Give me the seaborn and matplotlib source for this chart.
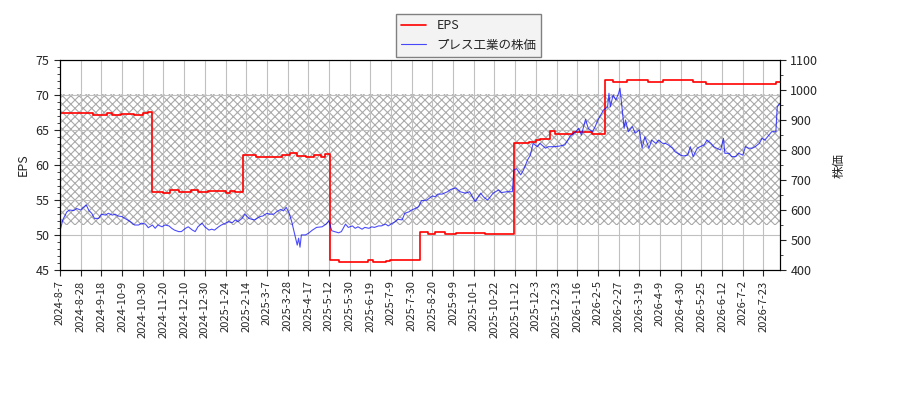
import matplotlib
matplotlib.use("Agg")
import matplotlib.pyplot as plt
import seaborn as sns
import pandas as pd
from matplotlib.ticker import MultipleLocator

# trading-day index -> EPS (step changes only)
eps_day = [0, 24, 34, 38, 44, 54, 60, 64, 67, 75, 80, 86, 95, 100, 107, 120, 123, 127,
           133, 142, 161, 167, 172, 178, 184, 189, 192, 196, 202, 223, 227, 236, 239, 256,
           261, 267, 272, 279, 287, 308, 329, 340, 345, 348, 355, 359, 372, 386, 395, 401,
           411, 426, 437, 459, 462, 468, 519, 522]
eps = [67.5, 67.1, 67.5, 67.1, 67.3, 67.2, 67.4, 67.6, 56.2, 56.0, 56.4, 56.1, 56.5, 56.1,
       56.3, 56.0, 56.3, 56.1, 61.5, 61.2, 61.4, 61.7, 61.3, 61.2, 61.5, 61.1, 61.6, 46.4,
       46.2, 46.4, 46.2, 46.3, 46.4, 46.5, 50.4, 50.2, 50.4, 50.2, 50.3, 50.1, 63.1, 63.3,
       63.6, 63.7, 64.8, 64.4, 64.7, 64.5, 72.1, 71.9, 72.1, 71.8, 72.2, 71.9, 71.8, 71.6,
       71.9, 71.9]

# trading-day index -> share price (yen)
price_day = [0, 2, 5, 7, 10, 12, 15, 17, 19, 21, 23, 25, 28, 30, 33, 35, 38, 40, 42, 45,
             47, 50, 52, 54, 57, 59, 62, 64, 67, 69, 71, 74, 76, 79, 81, 83, 86, 88, 91, 93,
             96, 98, 100, 103, 105, 108, 110, 112, 115, 117, 120, 122, 125, 127, 129, 132,
             134, 137, 139, 141, 145, 147, 150, 152, 155, 157, 160, 162, 164, 166, 168, 170,
             172, 173, 174, 175, 178, 180, 183, 186, 190, 193, 195, 197, 199, 202, 204, 207,
             209, 212, 214, 216, 219, 221, 224, 226, 228, 231, 233, 236, 238, 241, 243, 245,
             248, 250, 253, 255, 258, 260, 262, 266, 270, 272, 274, 277, 281, 283, 287, 290,
             294, 297, 301, 305, 307, 310, 312, 314, 318, 320, 324, 328, 329, 331, 334, 336,
             339, 341, 343, 346, 348, 352, 354, 358, 362, 366, 370, 374, 376, 378, 381, 383,
             386, 388, 390, 394, 397, 398, 399, 401, 403, 405, 406, 409, 410, 412, 415, 417,
             420, 422, 424, 427, 429, 432, 434, 437, 439, 441, 444, 446, 450, 452, 455, 457,
             459, 462, 464, 467, 469, 472, 474, 476, 479, 481, 482, 485, 487, 490, 492, 495,
             497, 499, 502, 504, 507, 509, 511, 514, 516, 519, 520, 522]
price = [530, 567, 594, 600, 598, 605, 600, 609, 617, 598, 589, 572, 572, 586, 583, 589, 583,
         586, 580, 578, 572, 564, 558, 550, 550, 556, 553, 541, 550, 539, 550, 544, 550, 547,
         539, 533, 528, 528, 539, 544, 533, 528, 544, 556, 544, 533, 536, 533, 544, 550, 556,
         561, 558, 567, 561, 572, 586, 572, 569, 567, 578, 580, 589, 586, 586, 594, 602, 597,
         609, 591, 561, 522, 483, 506, 476, 517, 517, 522, 533, 542, 544, 553, 564, 531, 528,
         524, 528, 553, 542, 547, 539, 544, 536, 542, 539, 544, 542, 547, 547, 553, 547, 556,
         561, 569, 567, 589, 594, 600, 606, 611, 631, 633, 647, 644, 653, 653, 661, 668, 674,
         661, 656, 661, 628, 656, 644, 633, 644, 656, 667, 658, 661, 661, 733, 738, 717, 733,
         767, 783, 822, 811, 822, 806, 811, 811, 813, 817, 847, 861, 872, 850, 902, 872, 861,
         878, 900, 933, 944, 989, 944, 983, 967, 989, 1006, 872, 900, 861, 878, 856, 867, 806,
         844, 806, 833, 822, 833, 822, 822, 817, 806, 794, 783, 780, 783, 811, 778, 806, 811,
         817, 833, 822, 811, 806, 800, 839, 789, 789, 778, 778, 789, 783, 811, 806, 806, 811,
         822, 839, 833, 850, 861, 861, 944, 956]

tick_labels = ["2024-8-7", "2024-8-28", "2024-9-18", "2024-10-9", "2024-10-30", "2024-11-20",
               "2024-12-10", "2024-12-30", "2025-1-24", "2025-2-14", "2025-3-7", "2025-3-28",
               "2025-4-17", "2025-5-12", "2025-5-30", "2025-6-19", "2025-7-9", "2025-7-30",
               "2025-8-20", "2025-9-9", "2025-10-1", "2025-10-22", "2025-11-12", "2025-12-3",
               "2025-12-23", "2026-1-16", "2026-2-5", "2026-2-27", "2026-3-19", "2026-4-9",
               "2026-4-30", "2026-5-25", "2026-6-12", "2026-7-2", "2026-7-23"]

eps_df = pd.DataFrame({"day": eps_day, "EPS": eps})
price_df = pd.DataFrame({"day": price_day, "price": price})

sns.set_style("white")
plt.rcParams["font.family"] = ["Noto Sans CJK JP", "DejaVu Sans"]
plt.rcParams["hatch.linewidth"] = 0.8

fig, ax = plt.subplots(figsize=(9, 4), dpi=100)
fig.subplots_adjust(left=60 / 900, right=780 / 900, top=1 - 60 / 400, bottom=1 - 270 / 400)
ax2 = ax.twinx()

# hatched band behind the lines
ax.axhspan(51.4, 70.2, facecolor="none", edgecolor="#aaaaaa", hatch="xxxx", linewidth=0, zorder=0)

sns.lineplot(data=eps_df, x="day", y="EPS", ax=ax, color="red", linewidth=1.2,
             drawstyle="steps-post", label="EPS", legend=False)
sns.lineplot(data=price_df, x="day", y="price", ax=ax2, color="blue", linewidth=0.8,
             alpha=0.7, label="プレス工業の株価", legend=False)

ax.set_xlim(0, 522)
ax.set_ylim(45, 75)
ax2.set_ylim(400, 1100)
ax.set_xticks(range(0, 15 * len(tick_labels), 15))
ax.set_xticklabels(tick_labels, rotation=90, fontsize=8)
ax.yaxis.set_major_locator(MultipleLocator(5))
ax.yaxis.set_minor_locator(MultipleLocator(1))
ax2.yaxis.set_major_locator(MultipleLocator(100))
ax2.yaxis.set_minor_locator(MultipleLocator(50))
ax.tick_params(axis="both", which="both", direction="out", left=True, bottom=True, labelsize=9)
ax.tick_params(axis="x", labelsize=8)
ax.tick_params(which="major", length=4)
ax.tick_params(which="minor", length=2)
ax2.tick_params(which="both", direction="out", right=True, labelsize=9)
ax2.tick_params(which="major", length=4)
ax2.tick_params(which="minor", length=2)

ax.grid(True, which="major", color="#c0c0c0", linewidth=0.8)
ax.set_axisbelow(True)
ax.set_xlabel("")
ax.set_ylabel("EPS", fontsize=9)
ax2.set_xlabel("")
ax2.set_ylabel("株価", fontsize=9, labelpad=10)

for a in (ax, ax2):
    for s in a.spines.values():
        s.set_color("black")
        s.set_linewidth(0.8)

h1, l1 = ax.get_legend_handles_labels()
h2, l2 = ax2.get_legend_handles_labels()
leg = fig.legend(h1 + h2, l1 + l2, loc="upper center", bbox_to_anchor=(0.521, 0.98),
                 fancybox=False, edgecolor="#808080", facecolor="#f3f3f3", fontsize=9,
                 framealpha=1)

fig.savefig("out.png", dpi=100)
